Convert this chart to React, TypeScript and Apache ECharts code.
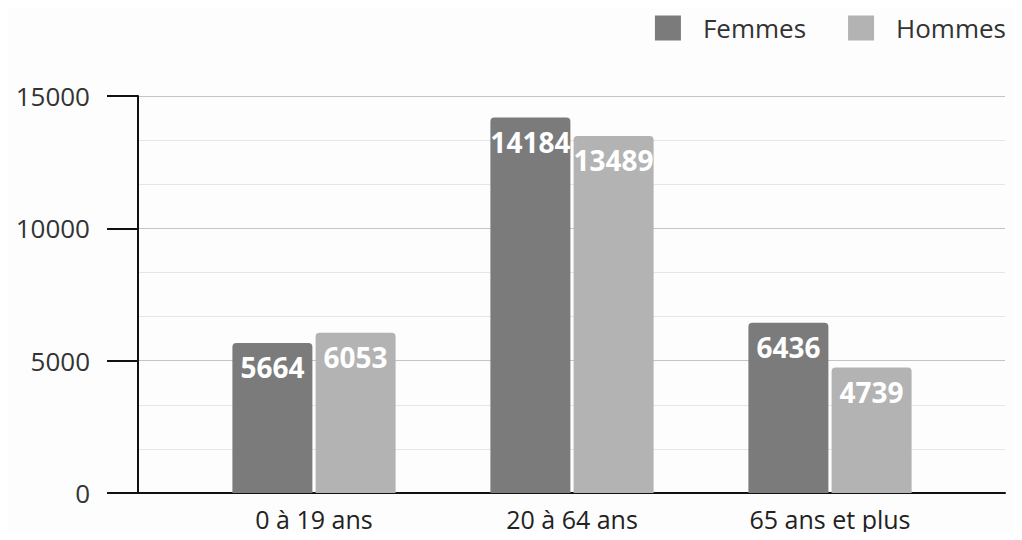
import React, { useEffect, useRef } from "react";
import * as echarts from "echarts";

const categories = ["0 à 19 ans", "20 à 64 ans", "65 ans et plus"];
const femmes = [5664, 14184, 6436];
const hommes = [6053, 13489, 4739];
const seriesNames = ["Femmes", "Hommes"];
const yTicks = { min: 0, max: 15000, interval: 5000 };

const FONT = "'Open Sans', 'Noto Sans', sans-serif";

export default function App() {
  const ref = useRef<HTMLDivElement>(null);
  useEffect(() => {
    if (!ref.current) return;
    const chart = echarts.init(ref.current, null, { renderer: "svg" });
    const label = {
      show: true,
      position: "insideTop",
      distance: 10,
      color: "#ffffff",
      fontSize: 28,
      fontWeight: "bold",
      fontFamily: FONT,
      formatter: (p: any) => String(p.value),
    };
    chart.setOption({
      animation: false,
      backgroundColor: "#fdfdfd",
      textStyle: { fontFamily: FONT },
      legend: {
        top: 10,
        right: 11,
        icon: "rect",
        itemWidth: 26,
        itemHeight: 25,
        itemGap: 42,
        textStyle: { fontSize: 26, color: "#333", fontFamily: FONT, padding: [0, 0, 0, 17] },
        data: seriesNames,
      },
      grid: [
        { left: 138, right: 17, top: 96, bottom: 47 },
        { left: 185, right: 63, top: 96, bottom: 47 },
      ],
      xAxis: [
        {
          gridIndex: 0,
          type: "value",
          min: 0,
          max: 1,
          axisLine: { show: true, onZero: false, lineStyle: { color: "#111", width: 2 } },
          axisTick: { show: false },
          axisLabel: { show: false },
          splitLine: { show: false },
        },
        {
          gridIndex: 1,
          type: "category",
          data: categories,
          axisLine: { show: false },
          axisTick: { show: false },
          axisLabel: { fontSize: 25, color: "#222", margin: 13, fontFamily: FONT },
        },
      ],
      yAxis: [
        {
          gridIndex: 0,
          type: "value",
          min: yTicks.min,
          max: yTicks.max,
          interval: yTicks.interval,
          axisLine: { show: true, lineStyle: { color: "#111", width: 2 } },
          axisTick: { show: true, length: 31, lineStyle: { color: "#111", width: 2 } },
          axisLabel: {
            fontSize: 26,
            color: "#333",
            margin: 48,
            fontFamily: FONT,
            formatter: (v: number) => String(v),
          },
          splitLine: { show: true, lineStyle: { color: "#c4c4c4", width: 1 } },
          minorTick: { show: false, splitNumber: 3 },
          minorSplitLine: { show: true, lineStyle: { color: "#e6e6e6", width: 1 } },
        },
        {
          gridIndex: 1,
          type: "value",
          min: yTicks.min,
          max: yTicks.max,
          interval: yTicks.interval,
          show: false,
          splitLine: { show: false },
        },
      ],
      series: [
        {
          name: seriesNames[0],
          type: "bar",
          xAxisIndex: 1,
          yAxisIndex: 1,
          data: femmes,
          barWidth: 80,
          barGap: "4%",
          itemStyle: { color: "#7b7b7b", borderRadius: [4, 4, 0, 0] },
          label,
        },
        {
          name: seriesNames[1],
          type: "bar",
          xAxisIndex: 1,
          yAxisIndex: 1,
          data: hommes,
          barWidth: 80,
          barGap: "4%",
          itemStyle: { color: "#b3b3b3", borderRadius: [4, 4, 0, 0] },
          label,
        },
      ],
    });
    return () => chart.dispose();
  }, []);
  return <div ref={ref} style={{ width: 1022, height: 540, margin: -8 }} />;
}
